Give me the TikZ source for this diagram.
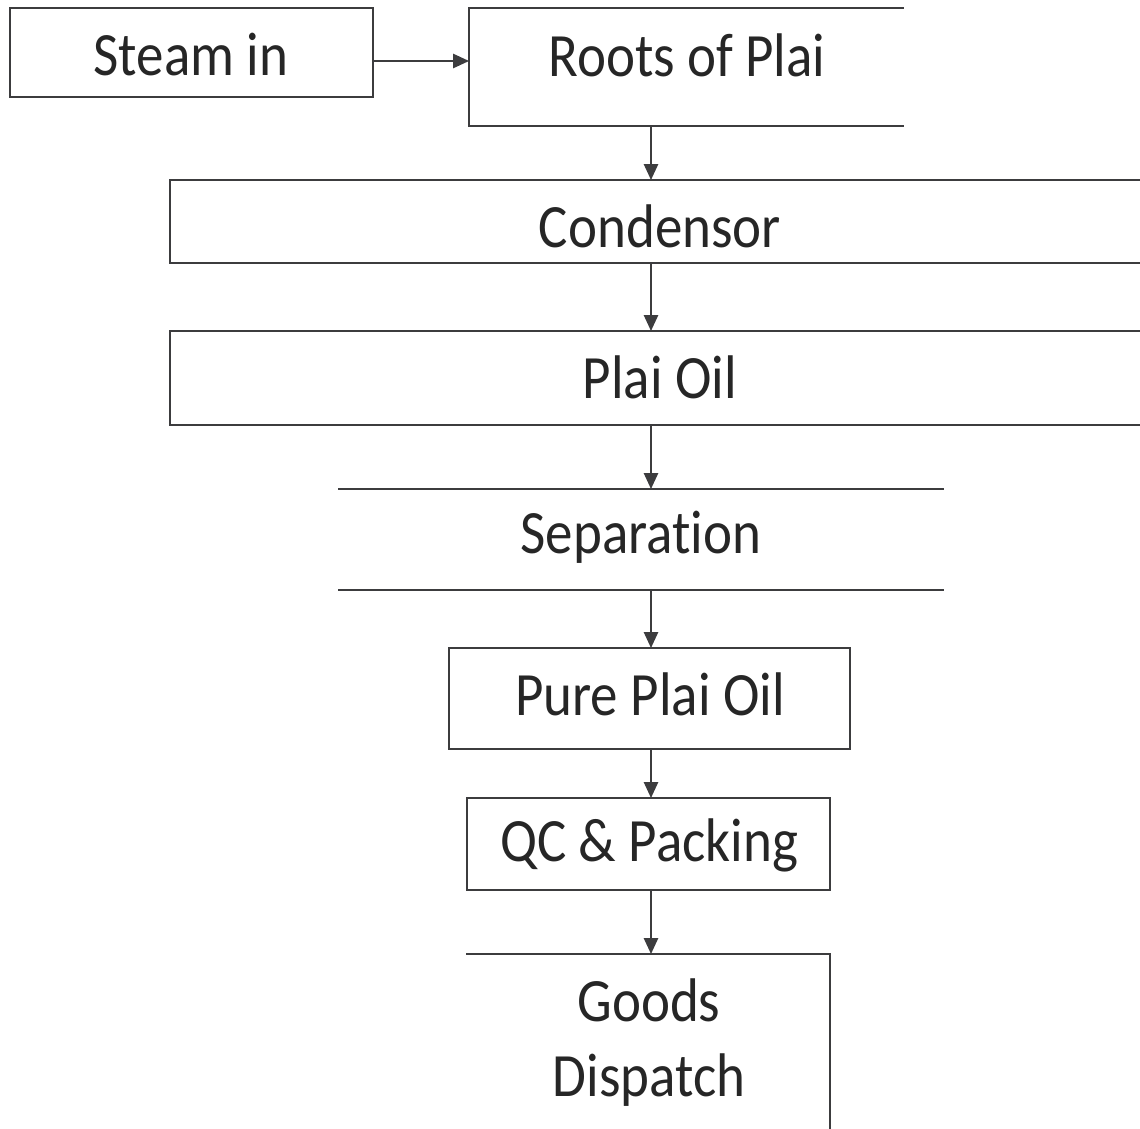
\documentclass[tikz,border=0pt]{standalone}
\usepackage{fontspec}
\setmainfont[Ligatures=NoCommon]{Carlito}
\usetikzlibrary{arrows.meta}
\definecolor{ink}{HTML}{3C3C3E}
\definecolor{txt}{HTML}{262626}
\tikzset{
  box/.style={draw=none, inner sep=0pt, outer sep=0pt, rectangle},
  lbl/.style={inner sep=0pt, text=txt, font=\fontsize{31.3pt}{37pt}\selectfont, yscale=1.12},
  edge/.style={draw=ink, line width=1.2pt, line cap=rect},
  arr/.style={draw=ink, line width=1.2pt, -{Triangle[width=8pt,length=9pt]}},
}
\begin{document}
\begin{tikzpicture}[x=0.02cm, y=-0.02cm]
\useasboundingbox (0,0) rectangle (1140,1129);
\coordinate (axis) at (651,0);
% box areas
\node[box, minimum width=7.26cm, minimum height=1.78cm] (steam) at (191.5,52.5) {};
\node[box, minimum width=8.68cm, minimum height=2.36cm] (roots) at (686,67) {};
\node[box, minimum width=19.4cm, minimum height=1.66cm] (cond) at (655,221.5) {};
\node[box, minimum width=19.4cm, minimum height=1.88cm] (oil) at (655,378) {};
\node[box, minimum width=12.08cm, minimum height=2.02cm] (sep) at (641,539.5) {};
\node[box, minimum width=8.02cm, minimum height=2.02cm] (pure) at (649.5,698.5) {};
\node[box, minimum width=7.26cm, minimum height=1.84cm] (qc) at (648.5,844) {};
\node[box, minimum width=7.26cm, minimum height=3.5cm] (goods) at (648.5,1041.5) {};
% outlines
\draw[edge] (steam.north west) rectangle (steam.south east);
\draw[edge] (roots.north east) -- (roots.north west) -- (roots.south west) -- (roots.south east);
\draw[edge] (cond.north east) -- (cond.north west) -- (cond.south west) -- (cond.south east);
\draw[edge] (oil.north east) -- (oil.north west) -- (oil.south west) -- (oil.south east);
\draw[edge] (sep.north west) -- (sep.north east);
\draw[edge] (sep.south west) -- (sep.south east);
\draw[edge] (pure.north west) rectangle (pure.south east);
\draw[edge] (qc.north west) rectangle (qc.south east);
\draw[edge] (goods.north west) -- (goods.north east) -- (goods.south east);
% labels
\node[lbl] (tsteam) at (191,55) {Steam in};
\node[lbl] (troots) at (687,55) {Roots of Plai};
\node[lbl] (tcond) at (660,226) {Condensor};
\node[lbl] (toil) at (660,377) {Plai Oil};
\node[lbl] (tsep) at (641,537) {Separation};
\node[lbl] (tpure) at (650,694) {Pure Plai Oil};
\node[lbl] (tqc) at (649,845) {QC \& Packing};
\node[lbl] (tgoods) at (649,1000) {Goods};
\node[lbl] (tdisp) at (649,1080) {Dispatch};
% connectors
\draw[arr] (steam.east |- 0,61) -- (roots.west |- 0,61);
\draw[arr] (roots.south -| axis) -- (cond.north -| axis);
\draw[arr] (cond.south -| axis) -- (oil.north -| axis);
\draw[arr] (oil.south -| axis) -- (sep.north -| axis);
\draw[arr] (sep.south -| axis) -- (pure.north -| axis);
\draw[arr] (pure.south -| axis) -- (qc.north -| axis);
\draw[arr] (qc.south -| axis) -- (goods.north -| axis);
\end{tikzpicture}
\end{document}
